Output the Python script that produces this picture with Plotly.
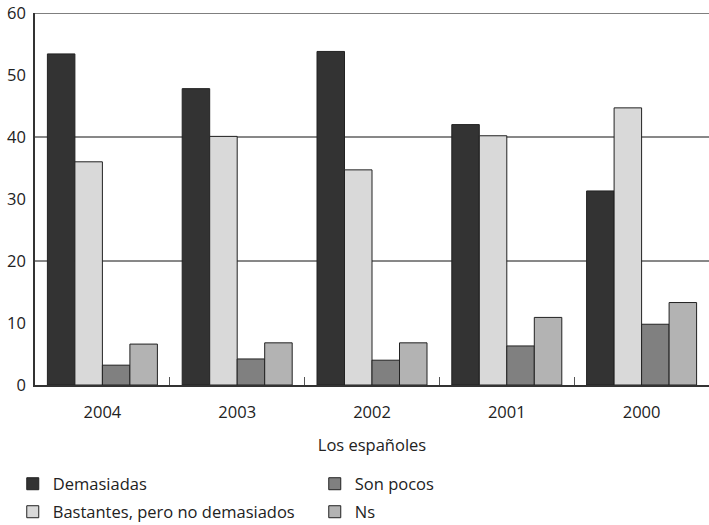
import plotly.graph_objects as go

years = ["2004", "2003", "2002", "2001", "2000"]
demasiadas = [53.4, 47.8, 53.8, 42.0, 31.3]
bastantes = [36.0, 40.1, 34.7, 40.2, 44.7]
son_pocos = [3.2, 4.2, 4.0, 6.3, 9.8]
ns = [6.6, 6.8, 6.8, 10.9, 13.3]

series_names = ["Demasiadas", "Bastantes, pero no demasiados", "Son pocos", "Ns"]
series_values = [demasiadas, bastantes, son_pocos, ns]
series_colors = ["#333333", "#d9d9d9", "#808080", "#b3b3b3"]
series_legend = ["legend", "legend2", "legend", "legend2"]

y_ticks = [0, 10, 20, 30, 40, 50, 60]
grid_values = [20, 40]
top_value = 60

FONT = "Open Sans"
TEXT = "#222222"
FS = 16.5

fig = go.Figure()
for name, vals, col, lg in zip(series_names, series_values, series_colors, series_legend):
    fig.add_trace(go.Bar(
        x=years, y=vals, name=name,
        marker=dict(color=col, line=dict(color="#222222", width=1)),
        legend=lg,
    ))

for g in grid_values:
    fig.add_hline(y=g, line=dict(color="#111111", width=1), layer="below")
fig.add_hline(y=top_value, line=dict(color="#555555", width=1.5), layer="below")

legend_common = dict(
    orientation="h", xanchor="left", yanchor="middle",
    entrywidth=257, entrywidthmode="pixels",
    font=dict(family=FONT, size=FS, color=TEXT),
    itemwidth=30, bgcolor="rgba(0,0,0,0)",
)

fig.update_layout(
    width=709, height=525,
    margin=dict(l=35, r=0, t=13, b=140, autoexpand=False),
    paper_bgcolor="white", plot_bgcolor="white",
    barmode="group", bargap=0.184, bargroupgap=0,
    font=dict(family=FONT, size=FS, color=TEXT),
    showlegend=True,
    legend=dict(x=-0.033, y=-(484 - 385) / 372, **legend_common),
    legend2=dict(x=-0.033, y=-(512 - 385) / 372, **legend_common),
    xaxis=dict(
        type="category",
        showline=True, linecolor="#333333", linewidth=1.5,
        ticks="inside", tickson="boundaries", ticklen=8, tickcolor="#555555",
        showgrid=False,
        ticklabelstandoff=11,
        title=dict(text="Los españoles", standoff=18, font=dict(size=FS, color=TEXT)),
        tickfont=dict(size=FS, color=TEXT),
    ),
    yaxis=dict(
        range=[0, 60], tickvals=y_ticks,
        showgrid=False, zeroline=False,
        showline=True, linecolor="#333333", linewidth=1.5,
        ticks="", ticklabelstandoff=4,
        tickfont=dict(size=FS, color=TEXT),
    ),
)

fig.write_html("out.html")
